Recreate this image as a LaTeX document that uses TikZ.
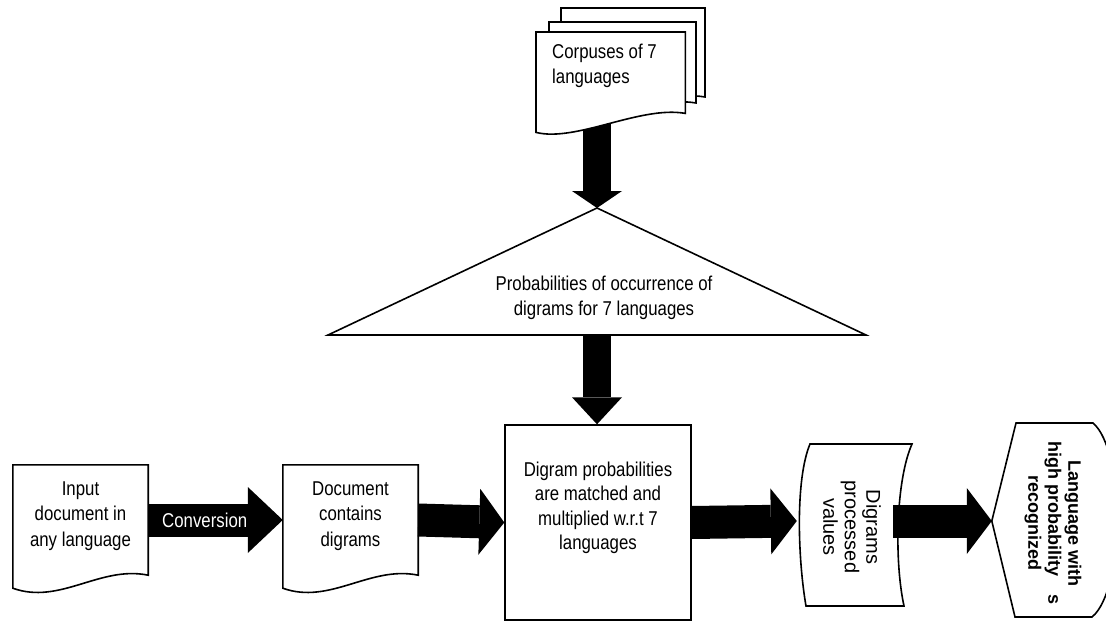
\documentclass[tikz,border=0pt]{standalone}
\usepackage{fontspec}
\setmainfont{Liberation Sans}[FakeStretch=0.84]
\newfontfamily\widefont{Liberation Sans}
\usetikzlibrary{arrows.meta,calc}
\tikzset{
  frame/.style={draw=none, inner sep=0pt},
  outline/.style={draw=black, line width=1.6pt, fill=white, line join=miter},
  lbl/.style={font=\fontsize{20}{25.5}\selectfont, align=center, inner sep=0pt},
  harrow/.style={draw=black, line width=33pt, -{Triangle[width=66pt,length=#1,line width=0pt]}},
  varrow/.style={draw=black, line width=28pt, -{Triangle[width=50pt,length=#1,line width=0pt]}}
}
\begin{document}
\begin{tikzpicture}[x=1pt,y=-1pt]
\useasboundingbox[fill=white] (0,0) rectangle (1106,621);

% invisible frames
\node[frame, minimum width=149pt, minimum height=81pt, anchor=north west] (corp) at (536,32) {};
\coordinate (apex) at (597,208);
\coordinate (base) at (597,335);
\node[frame, minimum width=135pt, minimum height=110pt] (input) at (80.5,520) {};
\node[frame, minimum width=135pt, minimum height=110pt] (doc) at (350.5,520) {};
\node[frame, minimum width=96pt, minimum height=162pt] (dig) at (845,521) {};
\node[frame, minimum width=114pt, minimum height=194pt] (lang) at (1049,521) {};

% arrow from corpuses (under the pages)
\draw[varrow=17pt] (corp.south -| apex) -- (apex);

% corpus pages
\draw[outline] (561,8) -- (705,8) -- (705,97) .. controls +(-45,-8) and +(40,10) .. (561,116) -- cycle;
\draw[outline] (549,22) -- (696,22) -- (696,103) .. controls +(-45,-8) and +(40,10) .. (549,122) -- cycle;
\draw[outline] (corp.north west) -- (corp.north east) -- (corp.south east)
  .. controls +(-45,-8) and +(40,10) .. ($(corp.south west)+(0,19)$) -- cycle;
\node[lbl, align=left, anchor=west] (corptext) at (552,66) {Corpuses of 7\\languages};

% triangle
\draw[outline] (apex) -- (866,335) -- (328,335) -- cycle;
\node[lbl] (prob) at (604,298) {Probabilities of occurrence of\\digrams for 7 languages};

% centre box
\node[draw=black, line width=1.4pt, fill=white, minimum width=186pt, minimum height=195pt] (match) at (598,522.5) {};
\node[lbl, font=\fontsize{20}{24.5}\selectfont] (matchtext) at (598,508) {Digram probabilities\\are matched and\\multiplied w.r.t 7\\languages};

% input documents
\draw[outline] (input.north west) -- (input.north east) -- (input.south east)
  .. controls +(-48,-10) and +(47,17) .. ($(input.south west)+(0,13)$) -- cycle;
\node[lbl] (inputtext) at (80.5,516) {Input\\document in\\any language};
\draw[outline] (doc.north west) -- (doc.north east) -- (doc.south east)
  .. controls +(-48,-10) and +(47,17) .. ($(doc.south west)+(0,13)$) -- cycle;
\node[lbl] (doctext) at (350.5,516) {Document\\contains\\digrams};

% digrams processed values
\draw[outline] (810,444) -- (912,444) .. controls (896,480) and (894,560) .. (904,606)
  -- (806,606) .. controls (798,560) and (795,480) .. cycle;
\node[rotate=-90, inner sep=0pt, align=center, font=\widefont\fontsize{20}{21.5}\selectfont] (digtext) at (852,527) {Digrams\\processed\\values};

% language recognized
\draw[outline] (lang.west) -- (1016,423) -- (1093,423) .. controls (1125,450) and (1125,590) .. (1092,617)
  -- (1015,617) -- cycle;
\node[rotate=-90, inner sep=0pt, align=center, font=\widefont\bfseries\fontsize{18}{20}\selectfont] (langtext) at (1053,523) {Language with\\high probability\hspace{1em}s\\recognized};

% arrows
\draw[varrow=27pt] (base) -- (match.north -| base);
\draw[harrow=35pt] (input.east) -- node[pos=0.42, text=white, lbl] {Conversion} (doc.west);
\draw[harrow=25pt] (doc.east) -- (match.west);
\draw[harrow=26pt] (match.east) -- (dig.west);
\draw[harrow=25pt] (dig.east) -- (lang.west);
\end{tikzpicture}
\end{document}
